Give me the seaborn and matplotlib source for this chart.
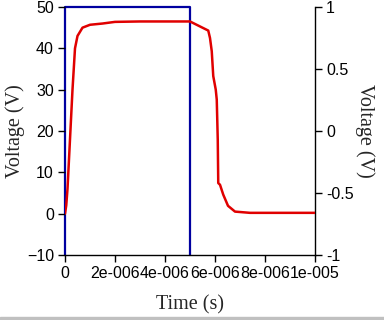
import numpy as np
import pandas as pd
import seaborn as sns
import matplotlib.pyplot as plt
from matplotlib.patches import Rectangle

# Red trace (left axis)
time_us = [0, 0.05, 0.1, 0.2, 0.3, 0.4, 0.5, 0.7, 1.0, 1.5, 2.0, 3.0, 5.0,
           5.73, 5.8, 5.87, 5.93, 6.03, 6.07, 6.09, 6.11, 6.13, 6.2, 6.33,
           6.52, 6.8, 7.4, 10.0]
voltage_v = [0, 2, 6, 18, 30, 40, 43, 45, 45.7, 46.0, 46.4, 46.5, 46.5,
             44.3, 42.5, 39.3, 33.3, 30.0, 27.6, 22.8, 17.9, 7.4, 7.0, 4.6,
             1.9, 0.5, 0.2, 0.2]

# Blue gate pulse (right axis)
pulse_t_us = [0, 0, 5.0, 5.0]
pulse_v = [-1, 1, 1, -1]

x_ticks_us = [0, 2, 4, 6, 8, 10]
x_tick_labels = ["0", "2e-006", "4e-006", "6e-006", "8e-006", "1e-005"]
left_ticks = [-10, 0, 10, 20, 30, 40, 50]
right_ticks = [-1, -0.5, 0, 0.5, 1]
right_tick_labels = ["-1", "-0.5", "0", "0.5", "1"]

df_red = pd.DataFrame({"t": np.array(time_us) * 1e-6, "v": voltage_v})
df_blue = pd.DataFrame({"t": np.array(pulse_t_us) * 1e-6, "v": pulse_v})

sns.set_theme(style="ticks")
plt.rcParams["font.family"] = ["Liberation Sans", "DejaVu Sans"]

fig = plt.figure(figsize=(3.84, 3.2), dpi=100)
ax = fig.add_axes([65 / 384, 1 - 255 / 320, 250 / 384, 248 / 320])
ax2 = ax.twinx()

sns.lineplot(data=df_blue, x="t", y="v", ax=ax2, sort=False,
             color="#0000a0", linewidth=1.6, estimator=None, clip_on=False)
sns.lineplot(data=df_red, x="t", y="v", ax=ax, sort=False,
             color="#e00000", linewidth=1.8, estimator=None)
ax.set_zorder(ax2.get_zorder() + 1)
ax.patch.set_visible(False)

ax.set_xlim(0, 1e-5)
ax.set_ylim(-10, 50)
ax2.set_ylim(-1, 1)
ax.set_xticks(np.array(x_ticks_us) * 1e-6, x_tick_labels)
ax.set_yticks(left_ticks)
ax2.set_yticks(right_ticks, right_tick_labels)

for a in (ax, ax2):
    a.spines["top"].set_visible(False)
    for s in a.spines.values():
        s.set_linewidth(1.0)
        s.set_color("black")
    a.tick_params(length=5, width=1.0, labelsize=11.5, colors="black", pad=3)
ax.spines["right"].set_visible(False)
ax.spines["left"].set_visible(False)
ax2.spines["left"].set_visible(False)
ax2.spines["bottom"].set_visible(False)

serif = ["Liberation Serif", "DejaVu Serif"]
ax.set_xlabel("Time (s)", family=serif, fontsize=14.5)
ax.set_ylabel("Voltage (V)", family=serif, fontsize=14.5)
ax2.set_ylabel("Voltage (V)", family=serif, fontsize=14.5, rotation=270)
ax.xaxis.set_label_coords(0.5, -50 / 248, transform=ax.transAxes)
ax.yaxis.set_label_coords(-50 / 250, 0.5, transform=ax.transAxes)
ax2.yaxis.set_label_coords(300 / 250, 0.5, transform=ax.transAxes)
ax.xaxis.label.set_va("center")
ax.yaxis.label.set_va("center")
ax2.yaxis.label.set_va("center")

fig.patches.append(Rectangle((0, 0), 1, 3 / 320, transform=fig.transFigure,
                             color="#c0c0c0", zorder=0))

fig.savefig("out.png", dpi=100)
